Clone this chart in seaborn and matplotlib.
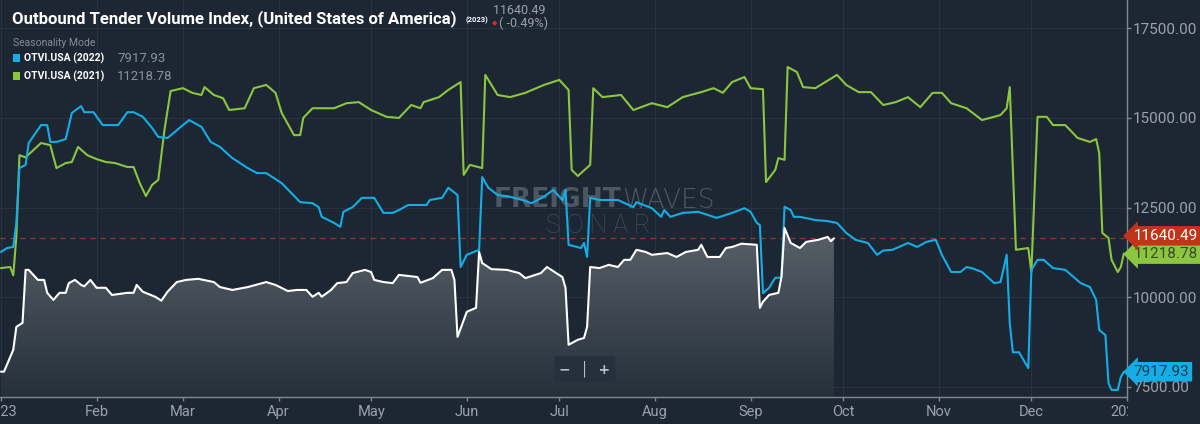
import numpy as np
import pandas as pd
import matplotlib
matplotlib.use('Agg')
import matplotlib.pyplot as plt
import seaborn as sns
from matplotlib.colors import LinearSegmentedColormap
from matplotlib.transforms import Bbox, TransformedBbox, blended_transform_factory

# x ticks: day of year where each month starts
tick_days = [0, 31, 59, 90, 120, 151, 181, 212, 243, 273, 304, 334, 365]
tick_labels = ['2023', 'Feb', 'Mar', 'Apr', 'May', 'Jun', 'Jul', 'Aug', 'Sep', 'Oct', 'Nov', 'Dec', '2024']
y_ticks = [7500, 10000, 12500, 15000, 17500]

# OTVI.USA (2021) - green
days_2021 = [0, 3, 4, 5, 6, 8, 13, 16, 18, 21, 23, 25, 28, 31, 34, 37, 41, 43, 45, 47,
             49, 51, 53, 55, 59, 62, 65, 66, 69, 72, 74, 79, 82, 86, 89, 91, 95, 97, 98, 101,
             108, 112, 116, 120, 125, 129, 133, 136, 137, 142, 145, 149, 150, 152, 156, 157, 161, 165, 170, 176,
             181, 184, 185, 187, 191, 192, 195, 201, 205, 211, 216, 221, 227, 231, 234, 237, 241, 243, 247, 248,
             251, 252, 254, 255, 258, 260, 264, 271, 274, 278, 282, 286, 290, 294, 298, 302, 305, 308, 313, 318,
             324, 326, 327, 329, 333, 334, 336, 339, 341, 345, 349, 353, 355, 356, 357, 359, 360, 362, 363, 364]
otvi_2021 = [10810, 10840, 10610, 11680, 13960, 13900, 14300, 14240, 13600, 13740, 13770, 14190, 13960, 13850, 13770, 13740, 13630, 13630, 13180, 12820,
             13130, 13270, 14660, 15750, 15830, 15700, 15640, 15860, 15640, 15550, 15220, 15270, 15830, 15920, 15700, 15140, 14520, 14520, 15000, 15270,
             15270, 15410, 15440, 15220, 15030, 15000, 15360, 15270, 15440, 15580, 15780, 16000, 13410, 13690, 13600, 16200, 15640, 15580, 15700, 15920,
             16060, 15780, 13550, 13380, 13690, 15830, 15580, 15640, 15220, 15410, 15300, 15580, 15720, 15830, 15700, 16000, 16140, 15830, 15800, 13210,
             13550, 13880, 13830, 16420, 16280, 15860, 15830, 16200, 15920, 15720, 15720, 15360, 15440, 15580, 15300, 15700, 15700, 15410, 15270, 14940,
             15080, 15270, 15860, 11320, 11370, 10700, 15030, 15030, 14800, 14800, 14440, 14330, 14410, 14020, 11790, 11650, 11040, 10700, 10840, 11218.78]

# OTVI.USA (2022) - blue
days_2022 = [0, 2, 4, 5, 6, 8, 9, 13, 15, 16, 18, 21, 23, 26, 27, 30, 33, 38, 41, 43,
             46, 49, 51, 54, 56, 59, 61, 65, 68, 71, 75, 80, 83, 86, 91, 97, 101, 103, 104, 108,
             110, 111, 114, 117, 121, 124, 127, 129, 132, 138, 139, 143, 145, 148, 149, 151, 155, 156, 158, 161,
             165, 169, 172, 176, 179, 182, 183, 184, 188, 189, 190, 191, 194, 200, 205, 206, 211, 214, 215, 217,
             221, 226, 232, 237, 241, 243, 245, 246, 247, 249, 251, 253, 254, 256, 257, 259, 264, 268, 271, 274,
             277, 281, 284, 286, 289, 294, 297, 300, 303, 305, 308, 311, 313, 315, 318, 322, 324, 326, 327, 328,
             330, 333, 334, 336, 338, 341, 345, 350, 353, 355, 356, 358, 359, 360, 362, 363, 364]
otvi_2022 = [11260, 11370, 11400, 12070, 13600, 13690, 14300, 14800, 14800, 14330, 14330, 14410, 15140, 15330, 15160, 15160, 14800, 14800, 15160, 15160,
             15030, 14720, 14470, 14440, 14580, 14800, 14940, 14750, 14330, 14190, 13880, 13600, 13460, 13460, 13180, 12650, 12620, 12510, 12240, 12070,
             11960, 12380, 12510, 12770, 12770, 12350, 12350, 12430, 12570, 12570, 12710, 12770, 13050, 12850, 10840, 11180, 11320, 13350, 13050, 12850,
             12800, 12710, 12620, 12800, 12990, 12710, 12990, 11460, 11370, 11510, 11120, 12770, 12710, 12710, 12510, 12650, 12480, 12240, 12430, 12240,
             12350, 12380, 12210, 12350, 12480, 12380, 12070, 12010, 10110, 10260, 10540, 10540, 12520, 12430, 12240, 12240, 12150, 12120, 12070, 11790,
             11600, 11510, 11180, 11300, 11320, 11510, 11400, 11540, 11600, 11180, 10700, 10700, 10840, 10800, 10700, 10390, 10420, 11180, 9270, 8460,
             8460, 8020, 10760, 11040, 11040, 10810, 10760, 10390, 10280, 9920, 9080, 8940, 7600, 7410, 7410, 7770, 7917.93]

# OTVI.USA (2023) - white with shaded area
days_2023 = [0, 1, 4, 5, 7, 8, 9, 12, 14, 15, 17, 19, 21, 22, 24, 26, 27, 29, 31, 34,
             36, 41, 43, 44, 46, 50, 52, 54, 57, 60, 64, 69, 71, 75, 80, 86, 89, 93, 96, 99,
             101, 103, 104, 107, 109, 112, 114, 118, 120, 121, 124, 127, 129, 135, 136, 140, 143, 146, 147, 148,
             151, 154, 155, 156, 159, 164, 168, 170, 175, 177, 180, 182, 183, 184, 187, 189, 190, 191, 194, 197,
             200, 202, 204, 206, 209, 211, 216, 219, 222, 226, 227, 229, 233, 235, 237, 240, 245, 246, 247, 249,
             252, 253, 254, 256, 259, 261, 265, 268, 269, 270]
otvi_2023 = [7920, 7920, 8530, 9170, 9280, 10760, 10760, 10480, 10480, 10120, 9920, 10120, 10120, 10390, 10480, 10340, 10300, 10480, 10260, 10260,
             10060, 10120, 10120, 10340, 10150, 10010, 9900, 10150, 10420, 10480, 10510, 10420, 10280, 10200, 10280, 10420, 10340, 10170, 10200, 10200,
             10010, 10120, 10010, 10200, 10390, 10420, 10670, 10760, 10700, 10480, 10420, 10390, 10620, 10560, 10400, 10530, 10760, 10760, 10480, 8890,
             9590, 9700, 11260, 10950, 10780, 10760, 10670, 10530, 10670, 10840, 10670, 10560, 10260, 8670, 8810, 8860, 9170, 10840, 10810, 10900,
             10840, 11040, 11040, 11320, 11260, 11180, 11230, 11120, 11260, 11320, 11460, 11120, 11120, 11370, 11400, 11490, 11460, 9700, 9870, 10060,
             10120, 10560, 11930, 11510, 11370, 11540, 11600, 11680, 11560, 11640.49]

last_2023 = 11640.49
last_2022 = 7917.93
last_2021 = 11218.78
change_2023 = -0.49

BG = '#1d2733'
GRID = '#28333f'
TXT = '#9aa2aa'
BLUE = '#14ade6'
GREEN = '#8cc63f'
RED = '#c2341a'

sns.set_theme(style='dark', rc={'axes.facecolor': BG, 'figure.facecolor': BG,
                                'axes.edgecolor': '#7f878f', 'grid.color': GRID})
plt.rcParams['font.family'] = ['Roboto', 'DejaVu Sans']

fig = plt.figure(figsize=(12, 4.24), dpi=100)
ax = fig.add_axes([0, 27 / 424, 1127 / 1200, 397 / 424])

y_lo, y_hi = 7213, 18290

# shaded area under 2023 with a vertical gradient
poly = ax.fill_between(days_2023, otvi_2023, y_lo, color='none', lw=0)
grad = np.linspace(0, 1, 256).reshape(-1, 1)
cmap = LinearSegmentedColormap.from_list('shade', ['#25303b', '#5a6169'])
im = ax.imshow(grad, cmap=cmap, aspect='auto', origin='lower',
               extent=[0, max(days_2023), y_lo, 12000], zorder=1, interpolation='bicubic')
im.set_clip_path(poly.get_paths()[0], transform=ax.transData)

sns.lineplot(x=days_2021, y=otvi_2021, ax=ax, color=GREEN, linewidth=1.5, zorder=3)
sns.lineplot(x=days_2022, y=otvi_2022, ax=ax, color=BLUE, linewidth=1.5, zorder=4)
sns.lineplot(x=days_2023, y=otvi_2023, ax=ax, color='white', linewidth=1.5, zorder=5)

ax.axhline(last_2023, color='#9a3a2a', lw=0.9, ls=(0, (4, 4)), zorder=2)

ax.set_xlim(-0.3, 365)
ax.set_ylim(y_lo, y_hi)
ax.set_xlabel('')
ax.set_ylabel('')

ax.set_xticks(tick_days)
ax.set_xticklabels(tick_labels)
ax.yaxis.tick_right()
ax.set_yticks(y_ticks)
ax.set_yticklabels([f'{v:.2f}' for v in y_ticks])
ax.tick_params(axis='x', colors='#7f878f', labelcolor=TXT, labelsize=10.5, length=3, width=1, pad=3, bottom=True)
ax.tick_params(axis='y', colors='#7f878f', labelcolor=TXT, labelsize=11, length=3, width=1, pad=1.5, right=True)
ax.grid(True, color=GRID, lw=0.8)
for s in ['left', 'top']:
    ax.spines[s].set_visible(False)
for s in ['right', 'bottom']:
    ax.spines[s].set_visible(True)
    ax.spines[s].set_color('#7f878f')
    ax.spines[s].set_linewidth(1)

# watermark
ax.text(0.551, 0.496, 'FREIGHT', transform=ax.transAxes, fontsize=19, weight='bold',
        family=['DejaVu Sans'], color='#4d5762', ha='right', va='center', zorder=1.5)
ax.text(0.552, 0.496, 'WAVES', transform=ax.transAxes, fontsize=19, weight='light',
        family=['DejaVu Sans'], color='#4d5762', ha='left', va='center', zorder=1.5)
ax.text(0.531, 0.431, 'S O N A R', transform=ax.transAxes, fontsize=18, weight='light',
        color='#424c57', ha='center', va='center', zorder=1.5)

# zoom buttons
fig.text(585 / 1200, 1 - 369 / 424, '\u2212  \u2502  +', color='#b8bec4', fontsize=10, weight='bold',
         ha='center', va='center', family=['DejaVu Sans'],
         bbox=dict(boxstyle='round,pad=0.35,rounding_size=0.2', fc='#24303b', ec='none'))

# value tags on the right axis
tr = blended_transform_factory(ax.transAxes, ax.transData)
ax.text(1.006, last_2021 - 20, f'{last_2021:.2f}', transform=tr, ha='left', va='center', fontsize=11,
        color='#3a4a2c', clip_on=False, zorder=10,
        bbox=dict(boxstyle='larrow,pad=0.18', fc=GREEN, ec='none'))
ax.text(1.006, last_2023 + 70, f'{last_2023:.2f}', transform=tr, ha='left', va='center', fontsize=11,
        color='white', clip_on=False, zorder=11,
        bbox=dict(boxstyle='larrow,pad=0.18', fc=RED, ec='none'))
ax.text(1.006, last_2022, f'{last_2022:.2f}', transform=tr, ha='left', va='center', fontsize=11,
        color='#1d3a4a', clip_on=False, zorder=10,
        bbox=dict(boxstyle='larrow,pad=0.18', fc=BLUE, ec='none'))

# title and header
fig.text(12 / 1200, 1 - 23 / 424, 'Outbound Tender Volume Index, (United States of America)',
         color='white', fontsize=12, weight='bold', va='baseline', ha='left')
fig.text(466 / 1200, 1 - 22 / 424, '(2023)', color='white', fontsize=5.5, weight='bold',
         va='baseline', ha='left')
fig.text(493 / 1200, 1 - 14 / 424, f'{last_2023:.2f}', color=TXT, fontsize=9, va='baseline', ha='left')
fig.text(492 / 1200, 1 - 23 / 424, '\u25c6', color='#e0262a', fontsize=5, va='center', ha='left',
         family=['DejaVu Sans'])
fig.text(499 / 1200, 1 - 27 / 424, f'( {change_2023:.2f}%)', color=TXT, fontsize=9, va='baseline', ha='left')

# legend
fig.text(13 / 1200, 1 - 42.5 / 424, 'Seasonality Mode', color='#858d95', fontsize=7.5, va='center', ha='left')
legend_rows = [('OTVI.USA (2022)', last_2022, BLUE, 58), ('OTVI.USA (2021)', last_2021, GREEN, 76)]
for name, val, col, yy in legend_rows:
    fig.patches.append(plt.Rectangle((13 / 1200, 1 - (yy + 4) / 424), 7 / 1200, 8 / 424,
                                     transform=fig.transFigure, fc=col, ec='none', figure=fig))
    fig.text(24 / 1200, 1 - yy / 424, name, color='white', fontsize=7.5, weight='bold',
             va='center', ha='left')
    fig.text(117 / 1200, 1 - yy / 424, f'{val:.2f}', color='#8a9299', fontsize=9.5, va='center', ha='left')

# hide the part of the last x label that runs under the price scale
fig.canvas.draw()
last_lab = ax.xaxis.get_major_ticks()[-1].label1
last_lab.set_clip_box(TransformedBbox(Bbox([[0, 0], [1128 / 1200, 1]]), fig.transFigure))
last_lab.set_clip_on(True)

fig.savefig('out.png', dpi=100, facecolor=BG)
